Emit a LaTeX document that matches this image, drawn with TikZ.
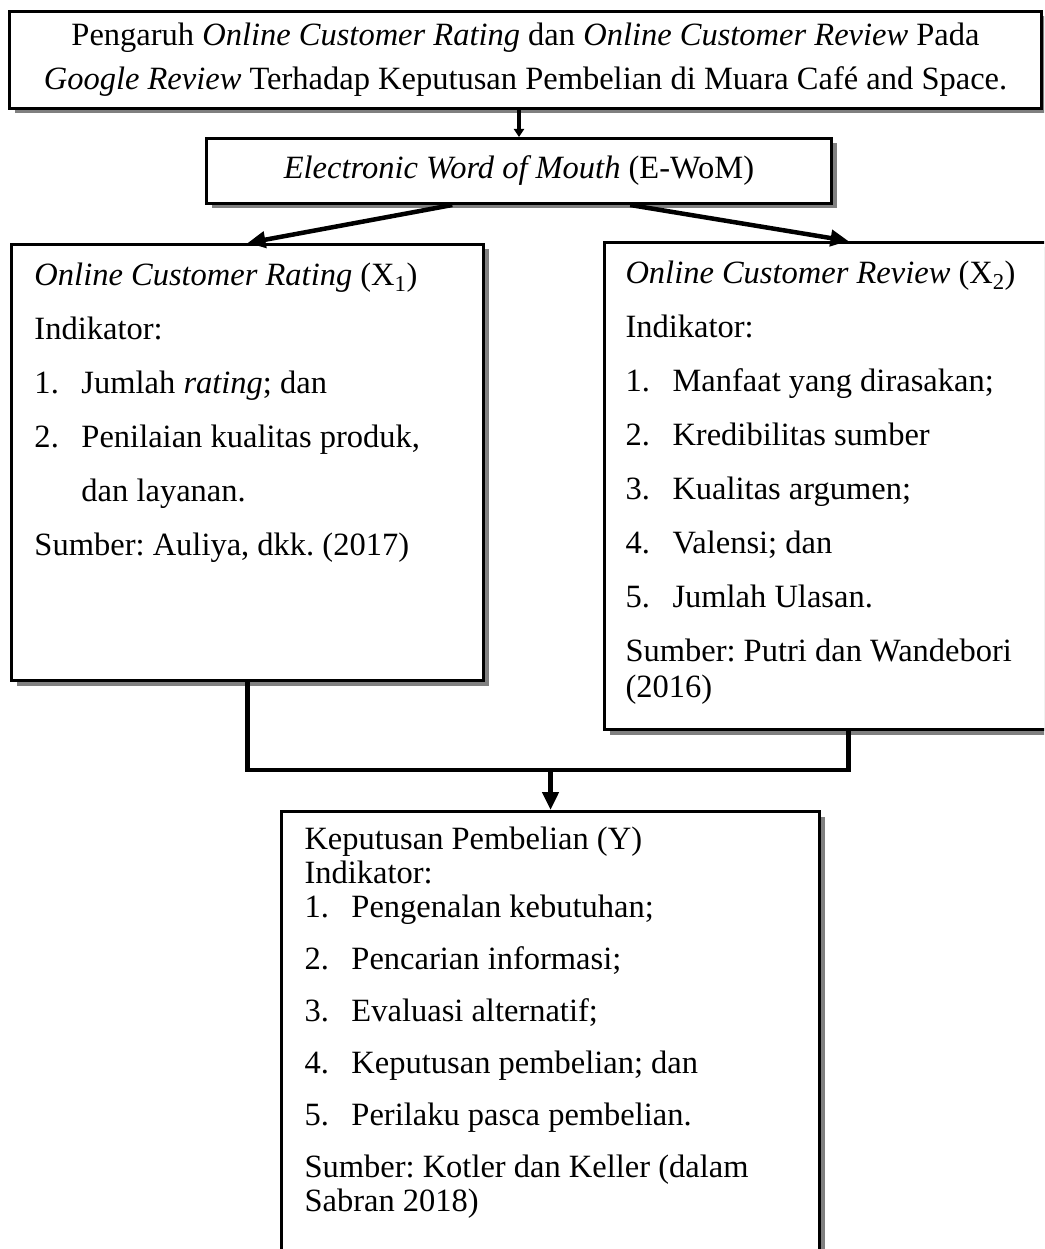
\documentclass[tikz,border=0pt]{standalone}
\usepackage{fontspec}
\setmainfont{Liberation Serif}
\usetikzlibrary{positioning,arrows.meta,calc,shadows}

\tikzset{
  box/.style={draw, line width=3pt, fill=white, inner sep=0pt, anchor=north west,
    drop shadow={shadow xshift=5pt, shadow yshift=-5pt, fill=black!50, opacity=1}},
  conn/.style={line width=4.5pt},
  >={Triangle[length=18pt,width=16pt]}
}
\newcommand{\nr}[2]{\makebox[47pt][l]{#1}#2\par}
\newcommand{\single}{\vspace{-18pt}}
\frenchspacing

\begin{document}
\begin{tikzpicture}[x=1pt,y=-1pt,font=\fontsize{32.5}{44}\selectfont]

  \useasboundingbox (0,0) rectangle (1044,1249);
  \clip (0,0) rectangle (1044,1249);

  \node[box, minimum width=1032pt, minimum height=97pt, align=center] (b0) at (8,10)
    {Pengaruh \textit{Online Customer Rating} dan \textit{Online Customer Review} Pada\\
     \textit{Google Review} Terhadap Keputusan Pembelian di Muara Café and Space.};
  \node[box, minimum width=625pt, minimum height=65pt] (b1) at (205,137)
    {\textit{Electronic Word of Mouth} (E-WoM)};

  \node[box] (b2) at (10,243)
    {\parbox[c][436pt][t]{472pt}{\leftskip=23pt \baselineskip=54pt
      \rule{0pt}{41pt}\textit{Online Customer Rating} (X\textsubscript{1})\par
      Indikator:\par
      \nr{1.}{Jumlah \textit{rating}; dan}
      \nr{2.}{Penilaian kualitas produk,}
      \nr{}{dan layanan.}
      Sumber: Auliya, dkk. (2017)\par}};

  \node[box] (b3) at (603,241)
    {\parbox[c][487pt][t]{488pt}{\leftskip=21pt \baselineskip=54pt
      \rule{0pt}{41pt}\textit{Online Customer Review} (X\textsubscript{2})\par
      Indikator:\par
      \nr{1.}{Manfaat yang dirasakan;}
      \nr{2.}{Kredibilitas sumber}
      \nr{3.}{Kualitas argumen;}
      \nr{4.}{Valensi; dan}
      \nr{5.}{Jumlah Ulasan.}
      Sumber: Putri dan Wandebori\par\single
      (2016)\par}};

  \node[box] (b4) at (280,810)
    {\parbox[c][480pt][t]{538pt}{\leftskip=23pt \baselineskip=52pt
      \rule{0pt}{38pt}Keputusan Pembelian (Y)\par\single
      Indikator:\par\single
      \nr{1.}{Pengenalan kebutuhan;}
      \nr{2.}{Pencarian informasi;}
      \nr{3.}{Evaluasi alternatif;}
      \nr{4.}{Keputusan pembelian; dan}
      \nr{5.}{Perilaku pasca pembelian.}
      Sumber: Kotler dan Keller (dalam\par\single
      Sabran 2018)\par}};

  \path (b4.north) ++(0,-40) coordinate (j);

  \draw[conn,-{Triangle[length=8pt,width=10pt]}] (b1.north |- b0.south) -- (b1.north);
  \draw[conn,->] (b1.207.5) -- (b2.north);
  \draw[conn,->] (b1.343.2) -- (b3.north);
  \draw[conn] (b2.south) |- (j) -| (b3.south);
  \draw[conn,->] (j) -- (b4.north);

\end{tikzpicture}
\end{document}
